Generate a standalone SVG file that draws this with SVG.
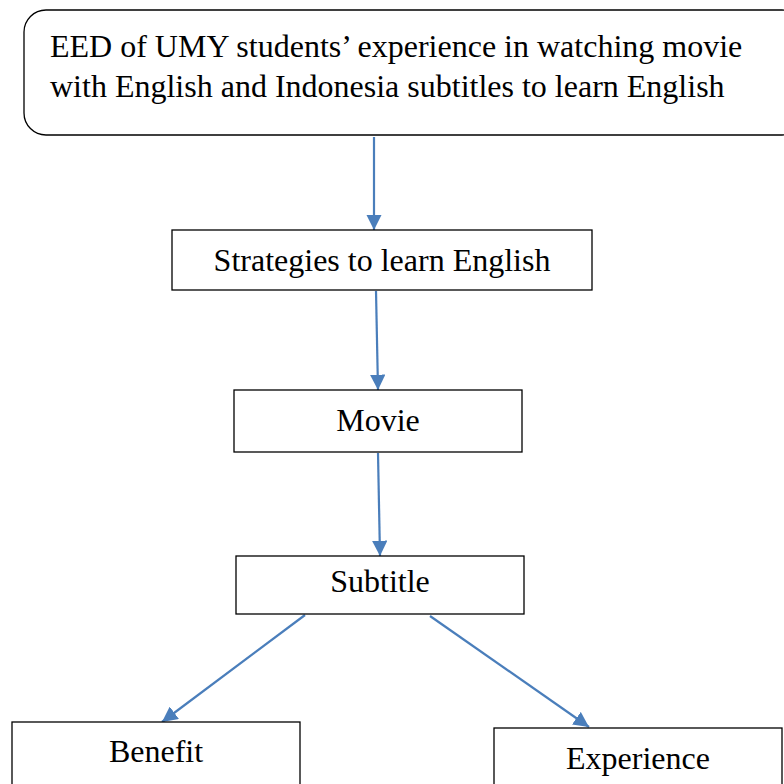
<svg xmlns="http://www.w3.org/2000/svg" width="784" height="784" viewBox="0 0 784 784">
<style>
.box{fill:#fff;stroke:#000;stroke-width:1.3}
.t{font-family:"Liberation Serif","Times New Roman",serif;font-size:32px;fill:#000}
.c{stroke:#4a7ebb;stroke-width:2.2;fill:none;marker-end:url(#ah)}
</style>
<defs>
<marker id="ah" viewBox="0 0 10 10" refX="10" refY="5" markerWidth="7" markerHeight="7" markerUnits="strokeWidth" orient="auto">
<path d="M0,0 L10,5 L0,10 z" fill="#4a7ebb"/>
</marker>
</defs>
<rect width="784" height="784" fill="#fff"/>
<g id="connectors">
<line class="c" x1="374" y1="137" x2="374" y2="230"/>
<line class="c" x1="376" y1="291" x2="378" y2="390"/>
<line class="c" x1="378" y1="453" x2="380" y2="556"/>
<line class="c" x1="305" y1="615" x2="162" y2="722"/>
<line class="c" x1="430" y1="616" x2="589" y2="727"/>
</g>
<g id="node-top">
<rect class="box" x="24" y="10" width="780" height="125" rx="22"/>
<text class="t" x="50" y="57">EED of UMY students’ experience in watching movie</text>
<text class="t" x="50" y="97">with English and Indonesia subtitles to learn English</text>
</g>
<g id="node-strategies">
<rect class="box" x="172" y="230" width="420" height="60"/>
<text class="t" x="382" y="271" text-anchor="middle">Strategies to learn English</text>
</g>
<g id="node-movie">
<rect class="box" x="234" y="390" width="288" height="62"/>
<text class="t" x="378" y="431" text-anchor="middle">Movie</text>
</g>
<g id="node-subtitle">
<rect class="box" x="236" y="556" width="288" height="58"/>
<text class="t" x="380" y="592" text-anchor="middle">Subtitle</text>
</g>
<g id="node-benefit">
<rect class="box" x="12" y="722" width="288" height="70"/>
<text class="t" x="156" y="762" text-anchor="middle">Benefit</text>
</g>
<g id="node-experience">
<rect class="box" x="494" y="728" width="288" height="70"/>
<text class="t" x="638" y="769" text-anchor="middle">Experience</text>
</g>
</svg>
